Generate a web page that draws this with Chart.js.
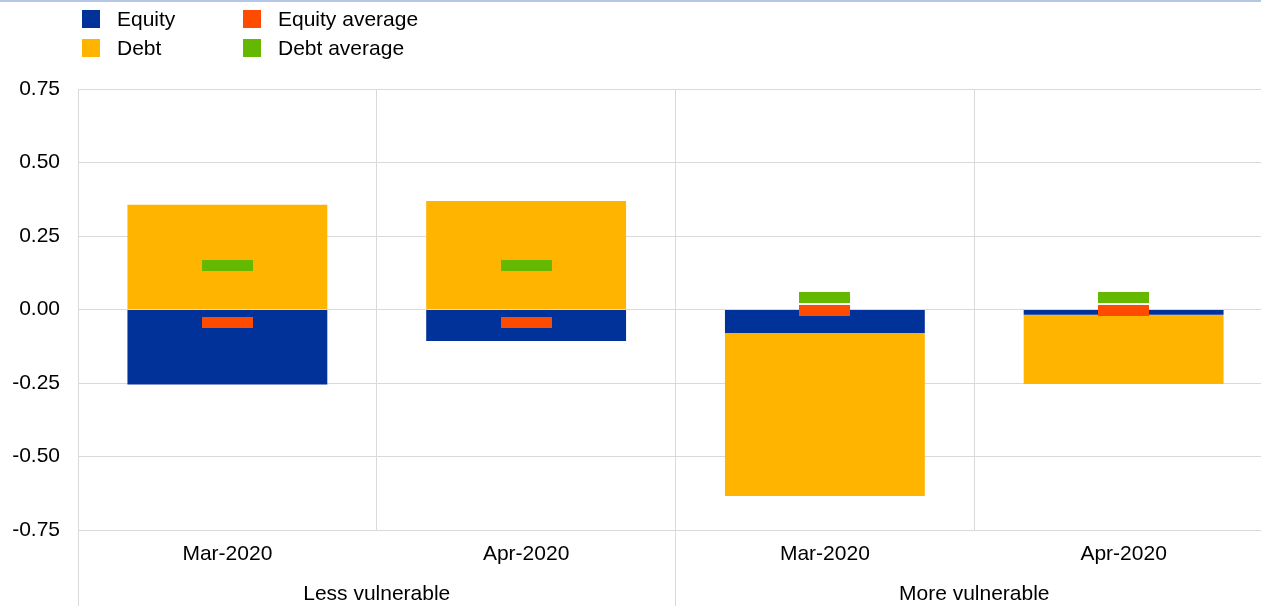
<!DOCTYPE html>
<html>
<head>
<meta charset="utf-8">
<script src="https://cdn.jsdelivr.net/npm/chart.js@4.4.0/dist/chart.umd.min.js"></script>
<style>
  html, body { margin: 0; padding: 0; width: 1261px; height: 606px; overflow: hidden; background: #fff; }
  #wrap { position: relative; width: 1261px; height: 606px; overflow: hidden; }
  #topline { position: absolute; left: 0; top: 0; width: 1261px; height: 2px; background: #b3c6e6; z-index: 2; }
  #box { position: absolute; left: 0; top: 0; width: 1275px; height: 606px; }
  .legend { position: absolute; left: 0; top: 0; font: 21px "Liberation Sans", Arial, sans-serif; color: #000; }
  .legend .item { position: absolute; white-space: nowrap; height: 24px; line-height: 24px; }
  .legend .box { position: absolute; left: 0; top: 3px; width: 18px; height: 18px; }
  .legend .txt { position: absolute; top: 0; }
</style>
</head>
<body>
<div id="wrap">
  <div id="topline"></div>
  <div id="box"><canvas id="chart"></canvas></div>
  <div class="legend" id="legend"></div>
</div>
<script>
// values
const periods = ["Mar-2020", "Apr-2020", "Mar-2020", "Apr-2020"];
const groups = ["Less vulnerable", "More vulnerable"];
const equity = [-0.255, -0.107, -0.080, -0.018];
const debt = [0.356, 0.369, -0.554, -0.235];
const equityAvg = [-0.043, -0.043, -0.003, -0.003];
const debtAvg = [0.150, 0.150, 0.041, 0.041];

const colors = {
  equity: "#003299",
  debt: "#ffb400",
  equityAvg: "#ff4b00",
  debtAvg: "#65b800",
};
const gridColor = "#d9d9d9";
const fontFamily = '"Liberation Sans", Arial, sans-serif';

// legend (two columns, two rows like the original)
const legendItems = [
  { label: "Equity", color: colors.equity, x: 82, y: 7 },
  { label: "Equity average", color: colors.equityAvg, x: 243, y: 7 },
  { label: "Debt", color: colors.debt, x: 82, y: 36 },
  { label: "Debt average", color: colors.debtAvg, x: 243, y: 36 },
];
const legendEl = document.getElementById("legend");
legendItems.forEach((it) => {
  const d = document.createElement("div");
  d.className = "item";
  d.style.left = it.x + "px";
  d.style.top = it.y + "px";
  d.innerHTML = '<span class="box" style="background:' + it.color + '"></span>' +
    '<span class="txt" style="left:35px">' + it.label + "</span>";
  legendEl.appendChild(d);
});

// flat rectangle used as marker for the averages
function dash(color) {
  const c = document.createElement("canvas");
  c.width = 51;
  c.height = 11;
  const g = c.getContext("2d");
  g.fillStyle = color;
  g.fillRect(0, 0, 51, 11);
  return c;
}

// group labels under the months and the long separators
const groupPlugin = {
  id: "groups",
  afterDraw(chart) {
    const { ctx, scales } = chart;
    const x = scales.x;
    const area = chart.chartArea;
    const step = x.getPixelForValue(1) - x.getPixelForValue(0);
    ctx.save();
    ctx.strokeStyle = gridColor;
    ctx.lineWidth = 1;
    groups.forEach((g, i) => {
      const first = i * 2;
      const left = x.getPixelForValue(first) - step / 2;
      const center = x.getPixelForValue(first) + step / 2;
      ctx.beginPath();
      ctx.moveTo(Math.floor(left) + 0.5, area.bottom);
      ctx.lineTo(Math.floor(left) + 0.5, chart.height);
      ctx.stroke();
      ctx.fillStyle = "#000";
      ctx.font = "21px " + fontFamily;
      ctx.textAlign = "center";
      ctx.textBaseline = "middle";
      ctx.fillText(g, center, 594);
    });
    ctx.restore();
  },
};

const ctx = document.getElementById("chart").getContext("2d");
new Chart(ctx, {
  type: "bar",
  data: {
    labels: periods,
    datasets: [
      {
        type: "line",
        label: "Equity average",
        data: equityAvg,
        stack: "ea",
        order: 0,
        showLine: false,
        pointStyle: dash(colors.equityAvg),
        pointRadius: 1,
        pointHoverRadius: 1,
        borderColor: colors.equityAvg,
        backgroundColor: colors.equityAvg,
      },
      {
        type: "line",
        label: "Debt average",
        data: debtAvg,
        stack: "da",
        order: 0,
        showLine: false,
        pointStyle: dash(colors.debtAvg),
        pointRadius: 1,
        pointHoverRadius: 1,
        borderColor: colors.debtAvg,
        backgroundColor: colors.debtAvg,
      },
      {
        label: "Equity",
        data: equity,
        order: 1,
        backgroundColor: colors.equity,
        barPercentage: 1,
        categoryPercentage: 0.669,
      },
      {
        label: "Debt",
        data: debt,
        order: 1,
        backgroundColor: colors.debt,
        barPercentage: 1,
        categoryPercentage: 0.669,
      },
    ],
  },
  options: {
    responsive: true,
    maintainAspectRatio: false,
    animation: false,
    layout: { padding: { top: 89, right: 0, bottom: 0, left: 0 } },
    plugins: {
      legend: { display: false },
      tooltip: { enabled: false },
    },
    scales: {
      x: {
        stacked: true,
        offset: true,
        grid: { offset: true, color: gridColor, drawTicks: false },
        border: { color: gridColor },
        ticks: {
          color: "#000",
          padding: 12,
          maxRotation: 0,
          font: { family: fontFamily, size: 21 },
        },
        afterFit(scale) {
          scale.height = 76;
          scale.paddingLeft = 0;
          scale.paddingRight = 0;
        },
      },
      y: {
        stacked: true,
        min: -0.75,
        max: 0.75,
        grid: { color: gridColor, drawTicks: false },
        border: { color: gridColor },
        ticks: {
          stepSize: 0.25,
          color: "#000",
          padding: 18,
          font: { family: fontFamily, size: 21 },
          callback: (v) => Number(v).toFixed(2),
        },
        afterFit(scale) {
          scale.width = 78;
        },
      },
    },
  },
  plugins: [groupPlugin],
});
</script>
</body>
</html>
